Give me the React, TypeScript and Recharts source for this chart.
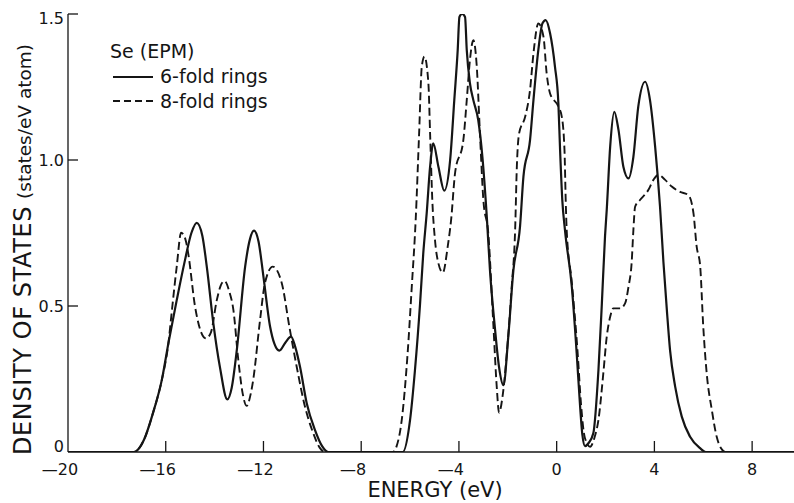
import React from 'react';
import { LineChart, Line, XAxis, YAxis, Legend } from 'recharts';

// 6-fold rings (solid curve)
const sixFoldEnergy = [
  -20, -17.3, -16.9, -16.52, -16.16, -15.89, -15.55, -15.21, -14.95, -14.73, -14.5, -14.32, -14.05,
  -13.78, -13.48, -13.3, -13.09, -12.75, -12.55, -12.39, -12.2, -12.0, -11.73, -11.55, -11.35,
  -11.1, -10.87, -10.7, -10.5, -10.23, -9.89, -9.6, -9.35,
  -6.3, -6.0, -5.8, -5.59, -5.46, -5.32, -5.18, -5.05, -4.84, -4.6, -4.36, -4.19, -4.05, -3.98,
  -3.87, -3.75, -3.68, -3.55, -3.41, -3.21, -3.04, -2.86, -2.73, -2.52, -2.36, -2.18, -1.98,
  -1.77, -1.5, -1.36, -1.09, -0.95, -0.75, -0.58, -0.45, -0.27, -0.07, 0.07, 0.14, 0.23, 0.34,
  0.62, 0.82, 0.96, 1.05, 1.16, 1.3, 1.5, 1.71, 1.85, 1.98, 2.05, 2.19, 2.36, 2.53, 2.73, 2.94,
  3.14, 3.34, 3.62, 3.82, 4.03, 4.23, 4.37, 4.51, 4.64, 4.85, 5.12, 5.46, 5.87, 6.1, 10,
];
const sixFoldDos = [
  0, 0, 0.04, 0.134, 0.247, 0.373, 0.52, 0.658, 0.75, 0.785, 0.74, 0.635, 0.44,
  0.29, 0.18, 0.22, 0.35, 0.635, 0.73, 0.758, 0.72, 0.6, 0.43, 0.37, 0.347,
  0.375, 0.395, 0.36, 0.29, 0.167, 0.075, 0.02, 0,
  0, 0.11, 0.28, 0.509, 0.68, 0.817, 0.977, 1.057, 0.977, 0.895, 1.0, 1.205, 1.377, 1.49,
  1.5, 1.49, 1.377, 1.263, 1.205, 1.137, 1.011, 0.806, 0.623, 0.418, 0.292, 0.229, 0.395,
  0.623, 0.772, 0.943, 1.068, 1.205, 1.377, 1.468, 1.479, 1.434, 1.32, 1.194, 1.034, 0.863, 0.76,
  0.566, 0.338, 0.155, 0.06, 0.02, 0.03, 0.064, 0.281, 0.509, 0.74, 0.83, 1.046, 1.165, 1.103, 0.977, 0.937,
  1.011, 1.183, 1.268, 1.205, 1.046, 0.84, 0.65, 0.486, 0.349, 0.224, 0.121, 0.052, 0.013, 0, 0,
];

// 8-fold rings (dashed curve)
const eightFoldEnergy = [
  -20, -17.3, -16.9, -16.52, -16.16, -15.89, -15.76, -15.55, -15.37, -15.2, -15.08, -14.8, -14.55,
  -14.35, -14.15, -13.91, -13.75, -13.6, -13.4, -13.23, -13.03, -12.85, -12.69, -12.52, -12.42,
  -12.14, -11.94, -11.62, -11.25, -10.94, -10.64, -10.3, -9.96, -9.7, -9.48,
  -6.7, -6.55, -6.34, -6.1, -5.93, -5.77, -5.63, -5.52, -5.41, -5.25, -5.18, -5.09, -4.98, -4.84,
  -4.66, -4.46, -4.32, -4.16, -3.82, -3.68, -3.55, -3.41, -3.27, -3.14, -3.0, -2.8, -2.6, -2.45,
  -2.36, -2.2, -2.04, -1.84, -1.7, -1.63, -1.54, -1.29, -1.09, -0.95, -0.75, -0.54, -0.41, -0.27,
  0.07, 0.21, 0.32, 0.37, 0.41, 0.62, 0.85, 1.0, 1.15, 1.37, 1.55, 1.71, 1.91, 2.05, 2.19, 2.32,
  2.6, 2.8, 2.94, 3.07, 3.14, 3.21, 3.41, 3.75, 3.96, 4.16, 4.44, 4.71, 5.05, 5.39, 5.6, 5.73,
  5.87, 6.0, 6.14, 6.35, 6.55, 6.75, 6.9, 10,
];
const eightFoldDos = [
  0, 0, 0.04, 0.134, 0.247, 0.373, 0.475, 0.635, 0.751, 0.73, 0.68, 0.498, 0.41,
  0.389, 0.41, 0.52, 0.57, 0.586, 0.55, 0.486, 0.315, 0.2, 0.158, 0.2, 0.247,
  0.452, 0.578, 0.635, 0.578, 0.429, 0.292, 0.155, 0.064, 0.015, 0,
  0, 0.02, 0.11, 0.338, 0.566, 0.795, 1.09, 1.32, 1.354, 1.263, 1.09, 0.863, 0.726, 0.646,
  0.614, 0.703, 0.795, 0.954, 1.068, 1.205, 1.342, 1.41, 1.32, 1.09, 0.863, 0.75, 0.45, 0.22,
  0.135, 0.2, 0.338, 0.566, 0.76, 0.977, 1.09, 1.148, 1.24, 1.365, 1.468, 1.422, 1.297, 1.228,
  1.183, 1.148, 1.034, 0.863, 0.76, 0.58, 0.35, 0.16, 0.05, 0.018, 0.05, 0.11, 0.27, 0.395, 0.463, 0.492,
  0.492, 0.509, 0.566, 0.65, 0.76, 0.84, 0.863, 0.897, 0.932, 0.949, 0.932, 0.909, 0.891, 0.88, 0.817, 0.703,
  0.64, 0.429, 0.27, 0.144, 0.052, 0.01, 0, 0,
];

const energyTicks = [-20, -16, -12, -8, -4, 0, 4, 8];
const dosTicks = [0, 0.5, 1.0, 1.5];
const dosTickLabels = ['0', '0.5', '1.0', '1.5'];

const sixFold = sixFoldEnergy.map((e, i) => ({ e, dos: sixFoldDos[i] }));
const eightFold = eightFoldEnergy.map((e, i) => ({ e, dos: eightFoldDos[i] }));

const FONT = '"DejaVu Sans", sans-serif';
const INK = '#151515';

const BottomTick = (props: any) => {
  const { x, y, payload } = props;
  const v = payload.value as number;
  const digits = String(Math.abs(v));
  const label = v < 0 ? '\u2014' + digits : digits;
  const endX = x + digits.length * 0.318 * 16;
  return (
    <g>
      {v !== -20 && <line x1={x} y1={y} x2={x} y2={y - 11} stroke={INK} strokeWidth={1.3} />}
      <text x={endX} y={y + 23} textAnchor="end" fontFamily={FONT} fontSize={16} fill={INK}>
        {label}
      </text>
    </g>
  );
};

const LeftTick = (props: any) => {
  const { x, y, payload } = props;
  const v = payload.value as number;
  const idx = dosTicks.indexOf(v);
  const label = idx >= 0 ? dosTickLabels[idx] : String(v);
  const dy = v === 0 ? 0 : v === 1.5 ? 10 : 6;
  return (
    <g>
      {v !== 0 && <line x1={x} y1={y} x2={x + 10} y2={y} stroke={INK} strokeWidth={1.3} />}
      <text x={x - 4} y={y + dy} textAnchor="end" fontFamily={FONT} fontSize={16} fill={INK}>
        {label}
      </text>
    </g>
  );
};

const YTitle = (props: any) => {
  const vb = props.viewBox || { x: 0, y: 14, width: 68, height: 438 };
  const bx = vb.x + 30.5;
  const by = vb.y + vb.height + 3;
  return (
    <text
      x={bx}
      y={by}
      transform={`rotate(-90, ${bx}, ${by})`}
      textAnchor="start"
      fontFamily={FONT}
      fill={INK}
    >
      <tspan fontSize={24} letterSpacing={0.6}>DENSITY OF STATES</tspan>
      <tspan fontSize={18.5} dx={7}>(states/eV atom)</tspan>
    </text>
  );
};

const XTitle = (props: any) => {
  const vb = props.viewBox || { x: 68, y: 452, width: 733, height: 51 };
  return (
    <text x={435} y={vb.y + 45} textAnchor="middle" fontFamily={FONT} fontSize={21} fill={INK}>
      ENERGY (eV)
    </text>
  );
};

const LegendContent = () => (
  <svg width={200} height={80} style={{ display: 'block', overflow: 'visible' }}>
    <text x={2} y={18} fontSize={19} fontFamily={FONT} fill={INK}>Se (EPM)</text>
    <line x1={5} y1={37} x2={45} y2={37} stroke={INK} strokeWidth={1.8} />
    <text x={52} y={43} fontSize={19} fontFamily={FONT} fill={INK}>6-fold rings</text>
    <line x1={5} y1={61} x2={45} y2={61} stroke={INK} strokeWidth={1.8} strokeDasharray="7 4" />
    <text x={52} y={68} fontSize={19} fontFamily={FONT} fill={INK}>8-fold rings</text>
  </svg>
);

export default function App() {
  return (
    <div
      style={{
        position: 'absolute',
        left: 0,
        top: 0,
        width: 794,
        height: 503,
        overflow: 'hidden',
        background: '#fff',
      }}
    >
      <LineChart width={806} height={503} margin={{ top: 14, right: 5, bottom: 0, left: 0 }}>
        <XAxis
          dataKey="e"
          type="number"
          domain={[-20, 10]}
          ticks={energyTicks}
          interval={0}
          tickLine={false}
          tickSize={0}
          tickMargin={0}
          tick={BottomTick}
          height={51}
          axisLine={{ stroke: INK, strokeWidth: 1.3 }}
          label={<XTitle />}
          allowDataOverflow
        />
        <XAxis
          xAxisId="top"
          orientation="top"
          type="number"
          domain={[-20, 10]}
          ticks={energyTicks}
          interval={0}
          mirror
          height={0}
          tick={false}
          tickSize={11}
          tickLine={{ stroke: INK, strokeWidth: 1.2 }}
          axisLine={{ stroke: INK, strokeWidth: 1.2 }}
          allowDataOverflow
        />
        <YAxis
          type="number"
          domain={[0, 1.5]}
          ticks={dosTicks}
          interval={0}
          tickLine={false}
          tickSize={0}
          tickMargin={0}
          tick={LeftTick}
          width={68}
          axisLine={{ stroke: INK, strokeWidth: 1.3 }}
          label={<YTitle />}
          allowDataOverflow
        />
        <YAxis
          yAxisId="right"
          orientation="right"
          type="number"
          domain={[0, 1.5]}
          ticks={dosTicks}
          interval={0}
          mirror
          width={0}
          tick={false}
          tickSize={10}
          tickLine={{ stroke: INK, strokeWidth: 1.2 }}
          axisLine={false}
          allowDataOverflow
        />
        <Legend
          layout="horizontal"
          verticalAlign="middle"
          align="center"
          wrapperStyle={{ left: 108, top: 40, width: 200, height: 80 }}
          content={LegendContent}
        />
        <Line
          data={eightFold}
          dataKey="dos"
          name="8-fold rings"
          type="monotone"
          stroke={INK}
          strokeWidth={1.9}
          strokeDasharray="8 4"
          dot={false}
          activeDot={false}
          isAnimationActive={false}
        />
        <Line
          data={sixFold}
          dataKey="dos"
          name="6-fold rings"
          type="monotone"
          stroke={INK}
          strokeWidth={2.2}
          dot={false}
          activeDot={false}
          isAnimationActive={false}
        />
      </LineChart>
    </div>
  );
}
